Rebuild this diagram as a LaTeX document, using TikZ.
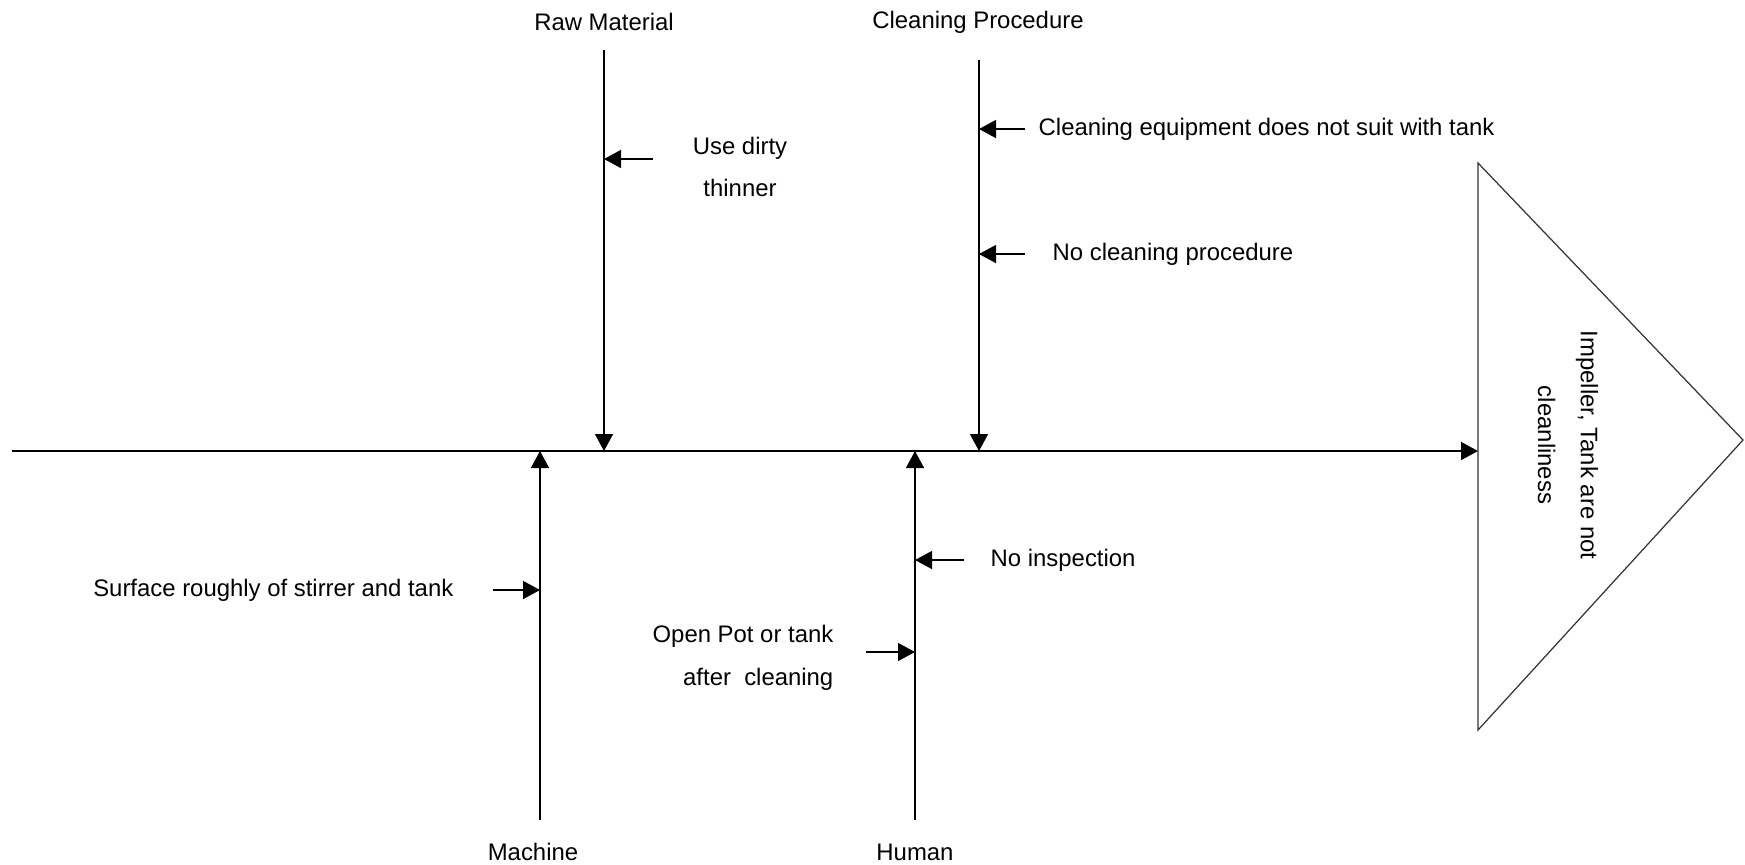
\documentclass[tikz,border=0pt]{standalone}
\usepackage{fontspec}
\setmainfont{Liberation Sans}
\usetikzlibrary{arrows.meta,positioning}
\tikzset{
  >={Triangle[length=1.7mm,width=1.8mm]},
  spine/.style={->,line width=0.45pt},
  bone/.style={->,line width=0.4pt},
  cause/.style={->,line width=0.4pt},
  effect/.style={line width=0.35pt,black!80},
  catlbl/.style={font=\fontsize{6.8}{12.2}\selectfont,inner sep=0pt},
  causelbl/.style={font=\fontsize{6.8}{12.2}\selectfont,inner sep=0pt},
  effectlbl/.style={font=\fontsize{6.8}{12.2}\selectfont,inner sep=0pt,
    align=center,rotate=-90},
}

\begin{document}
\begin{tikzpicture}[x=0.1mm,y=-0.1mm]
  \useasboundingbox (0,0) rectangle (1745,864);
  % head of the fish
  \coordinate (tail) at (12,451);
  \coordinate (eff) at (1478,451);
  \coordinate (efftop) at (1478,163);
  \coordinate (effbot) at (1478,730);
  \coordinate (apex) at (1743,440);
  \draw[effect] (efftop) -- (apex) -- (effbot) -- cycle;
  \node[effectlbl] (problem) at (1568,445) {Impeller, Tank are not\\cleanliness};
  \draw[spine] (tail) -- (eff);

  % main bones
  \node[catlbl] (raw) at (604,22) {Raw Material};
  \node[catlbl] (clean) at (978,22) {Cleaning Procedure};
  \node[catlbl] (mach) at (533,852) {Machine};
  \node[catlbl] (hum) at (915,852) {Human};
  \coordinate (rawtop) at (604,50);
  \coordinate (cleantop) at (979,60);
  \coordinate (machbot) at (540,820);
  \coordinate (humbot) at (915,820);
  \draw[bone] (rawtop) -- (rawtop |- tail);
  \draw[bone] (cleantop) -- (cleantop |- tail);
  \draw[bone] (machbot) -- (machbot |- tail);
  \draw[bone] (humbot) -- (humbot |- tail);

  % causes
  \coordinate (dirty) at (653,159);
  \draw[cause] (dirty) -- (dirty -| rawtop);
  \node[causelbl,align=center] (dirtyl) at (740,167) {Use dirty\\thinner};

  \coordinate (equip) at (1025,129);
  \draw[cause] (equip) -- (equip -| cleantop);
  \node[causelbl,right=1.3mm of equip] (equipl) {Cleaning equipment does not suit with tank};

  \coordinate (noproc) at (1025,254);
  \draw[cause] (noproc) -- (noproc -| cleantop);
  \node[causelbl,right=2.7mm of noproc] (noprocl) {No cleaning procedure};

  \coordinate (surf) at (493,590);
  \draw[cause] (surf) -- (surf -| machbot);
  \node[causelbl,left=3.9mm of surf] (surfl) {Surface roughly of stirrer and tank};

  \coordinate (noinsp) at (964,560);
  \draw[cause] (noinsp) -- (noinsp -| humbot);
  \node[causelbl,right=2.6mm of noinsp] (noinspl) {No inspection};

  \coordinate (open) at (866,652);
  \draw[cause] (open) -- (open -| humbot);
  \node[causelbl,align=right,left=3.2mm of open,yshift=-0.6mm] (openl) {Open Pot or tank\\after~ cleaning};
\end{tikzpicture}
\end{document}
